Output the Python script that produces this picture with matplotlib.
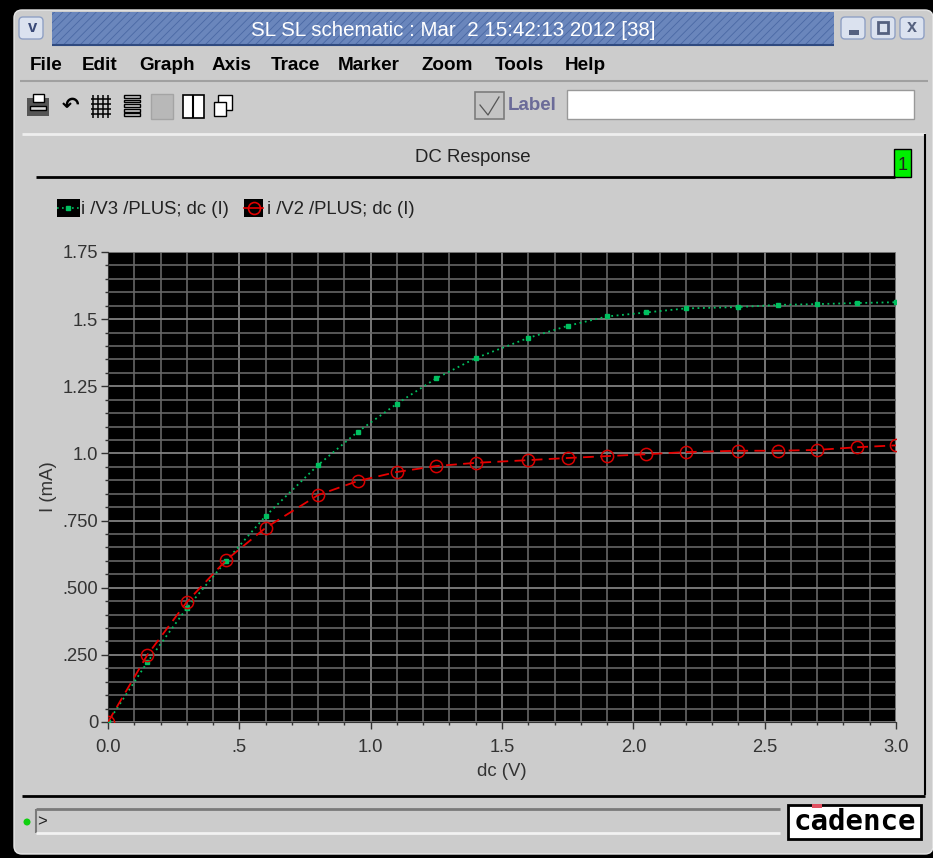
import matplotlib
matplotlib.use("Agg")
import matplotlib.pyplot as plt
from matplotlib.patches import Rectangle, FancyBboxPatch, Circle
from matplotlib.ticker import FixedLocator, MultipleLocator

plt.rcParams["font.family"] = ["Liberation Sans", "DejaVu Sans"]
plt.rcParams["hatch.linewidth"] = 0.6

W, H = 933, 858
GRAY = "#cccccc"

# values
dc_v = [0.0, 0.15, 0.3, 0.45, 0.6, 0.8, 0.95, 1.1, 1.25, 1.4, 1.6, 1.75,
        1.9, 2.05, 2.2, 2.4, 2.55, 2.7, 2.85, 3.0]
i_v3 = [0.0, 0.223, 0.424, 0.6, 0.767, 0.957, 1.08, 1.185, 1.28, 1.355, 1.43,
        1.475, 1.51, 1.525, 1.54, 1.545, 1.553, 1.556, 1.56, 1.563]
i_v2 = [0.0, 0.25, 0.447, 0.603, 0.723, 0.845, 0.897, 0.931, 0.953, 0.965,
        0.975, 0.983, 0.99, 0.997, 1.005, 1.01, 1.01, 1.013, 1.023, 1.03]

x_ticks = [0, 0.5, 1.0, 1.5, 2.0, 2.5, 3.0]
x_labels = ["0.0", ".5", "1.0", "1.5", "2.0", "2.5", "3.0"]
y_ticks = [0, 0.25, 0.5, 0.75, 1.0, 1.25, 1.5, 1.75]
y_labels = ["0", ".250", ".500", ".750", "1.0", "1.25", "1.5", "1.75"]
menu_names = ["File", "Edit", "Graph", "Axis", "Trace", "Marker", "Zoom", "Tools", "Help"]
menu_x = [30, 82, 139, 212, 271, 338, 421, 495, 565]

fig = plt.figure(figsize=(W / 100, H / 100), dpi=100, facecolor="black")

# window frame, drawn in pixel coordinates
win = fig.add_axes([0, 0, 1, 1])
win.set_xlim(0, W)
win.set_ylim(H, 0)
win.axis("off")


def box(x, y, w, h, fc, ec="none", lw=1, **kw):
    win.add_patch(Rectangle((x, y), w, h, fc=fc, ec=ec, lw=lw, **kw))


def line(xs, ys, color="black", lw=1):
    win.plot(xs, ys, color=color, lw=lw, solid_capstyle="butt")


win.add_patch(FancyBboxPatch((20, 16), 907, 832, boxstyle="round,pad=6,rounding_size=8",
                             fc=GRAY, ec="#e8e8e8", lw=1))

# title bar
box(52, 12, 782, 33, "#6a86bc", ec="#4a68a4", lw=0, hatch="////")
line([52, 834], [45, 45], "#2f4a80", 1.5)
win.text(453, 31, "SL SL schematic : Mar  2 15:42:13 2012 [38]", color="white",
         fontsize=14.8, ha="center", va="center")
for bx in [18, 840, 870, 899]:
    win.add_patch(FancyBboxPatch((bx + 3, 19), 20, 18, boxstyle="round,pad=2,rounding_size=4",
                                 fc="#dbe2ef", ec="#8fa0c4", lw=1))
win.text(33, 28, "v", color="#3a4a78", fontsize=12, ha="center", va="center", fontweight="bold")
box(849, 30, 10, 5, "#55617f")
box(878, 22, 10, 11, "#dbe2ef", ec="#55617f", lw=2)
win.text(912, 28, "x", color="#55617f", fontsize=13, ha="center", va="center", fontweight="bold")

# menu bar
for name, mx in zip(menu_names, menu_x):
    win.text(mx, 66, name, color="black", fontsize=13.6, fontweight="bold", va="center")
line([20, 928], [81, 81], "#a0a0a0", 1.5)

# toolbar icons
box(27, 98, 22, 18, "#555555")
box(33, 94, 11, 8, "white", ec="black")
box(30, 106, 16, 4, "#d8d8d8", ec="black")
win.text(71, 106, "↶", fontsize=15, ha="center", va="center", family="DejaVu Sans", fontweight="bold")
for k in range(4):
    line([93 + k * 5, 93 + k * 5], [95, 118], "black", 1.1)
    line([91, 111], [99 + k * 5, 99 + k * 5], "black", 1.1)
for k in range(5):
    box(124, 95 + k * 4.6, 16, 2.8, GRAY, ec="black", lw=1)
box(151, 94, 22, 25, "#b8b8b8", ec="#a4a4a4")
box(183, 95, 21, 23, "white", ec="black", lw=1.2)
line([193, 193], [95, 118], "black", 1.5)
box(218, 95, 14, 15, "white", ec="black", lw=1)
box(214, 102, 12, 14, "white", ec="black", lw=1)
box(475, 92, 29, 27, "#c4c4c4", ec="#7c7c7c", lw=1.2)
win.plot([480, 488, 499], [105, 115, 97], color="#555555", lw=0.9)
win.text(508, 106, "Label", color="#6b6b98", fontsize=13.5, fontweight="bold", va="center")
box(567, 90, 347, 29, "white", ec="#999999", lw=1)

# graph panel
box(22, 134, 902, 661, GRAY, ec="none")
line([22, 925], [134, 134], "#eeeeee", 2)
line([925, 925], [134, 795], "black", 1.5)
line([22, 925], [796, 796], "black", 2)
win.text(473, 157, "DC Response", color="#222222", fontsize=13.4, ha="center", va="center")
line([36, 895], [176.5, 176.5], "black", 2)
box(894, 149, 17, 28, "#00f000", ec="black", lw=1)
win.text(903, 165, "1", color="#222222", fontsize=13, ha="center", va="center")

# legend
box(57, 199, 23, 18, "black")
win.plot([57, 80], [208, 208], color="#00c060", lw=1.2, ls=(0, (1, 2)))
win.plot([68], [208], "s", color="#00c060", ms=2.5)
win.text(81, 209.5, "i /V3 /PLUS; dc (I)", color="#222222", fontsize=13.3, va="center")
box(244, 199, 19, 18, "black")
win.plot([244, 263], [208, 208], color="#e00000", lw=1.2)
win.plot([254], [208], "o", mfc="none", mec="#e00000", ms=8.6, mew=1.2)
win.text(267, 209.5, "i /V2 /PLUS; dc (I)", color="#222222", fontsize=13.3, va="center")

# status line
box(36, 809, 744, 24, "#cccccc", ec="none")
line([36, 780], [809, 809], "#7a7a7a", 2)
line([36, 36], [809, 833], "#7a7a7a", 1.5)
line([36, 780], [832.5, 832.5], "#f2f2f2", 2)
win.add_patch(Circle((27, 822), 3.5, fc="#10d010", ec="none"))
win.text(37, 822, ">", color="#222222", fontsize=12, va="center")
box(788, 805, 133, 34, "white", ec="black", lw=2)
box(812, 804, 10, 4, "#e05060")
win.text(855, 822, "cadence", color="black", fontsize=21, ha="center", va="center",
         fontweight="bold", family="DejaVu Sans Mono")

# plot area
ax = fig.add_axes([108 / W, 1 - 722 / H, 788 / W, 470 / H], facecolor="black")
ax.set_xlim(0, 3.0)
ax.set_ylim(0, 1.75)
ax.plot(dc_v, i_v3, color="#00c060", lw=1.3, ls=(0, (1, 2)), marker="s", ms=2.8, zorder=3)
ax.plot(dc_v, i_v2, color="#e80000", lw=1.3, ls=(0, (6, 3.5)), marker="o", ms=8.8,
        mfc="none", mec="#d80000", mew=1.1, zorder=4)

ax.xaxis.set_major_locator(FixedLocator(x_ticks))
ax.yaxis.set_major_locator(FixedLocator(y_ticks))
ax.xaxis.set_minor_locator(MultipleLocator(0.1))
ax.yaxis.set_minor_locator(MultipleLocator(0.05))
ax.set_xticklabels(x_labels)
ax.set_yticklabels(y_labels)
ax.grid(True, which="major", color="#808080", lw=1.3)
ax.grid(True, which="minor", color="#666666", lw=1.2)
ax.set_axisbelow(True)
ax.tick_params(which="major", length=5, width=1, color="#333333", labelcolor="#333333",
               labelsize=13.2)
ax.tick_params(axis="x", which="major", pad=7.5)
ax.tick_params(axis="y", which="major", pad=2)
ax.tick_params(which="minor", length=2, width=1, color="#333333")
for t in ax.get_yticklabels():
    t.set_va("center_baseline")
for side in ["top", "right"]:
    ax.spines[side].set_visible(False)
for side in ["left", "bottom"]:
    ax.spines[side].set_color("#333333")
ax.set_xlabel("dc (V)", color="#333333", fontsize=13.4, labelpad=4.5)
ax.set_ylabel("I (mA)", color="#333333", fontsize=13.4, labelpad=4)

fig.savefig("out.png", dpi=100, facecolor="black")
